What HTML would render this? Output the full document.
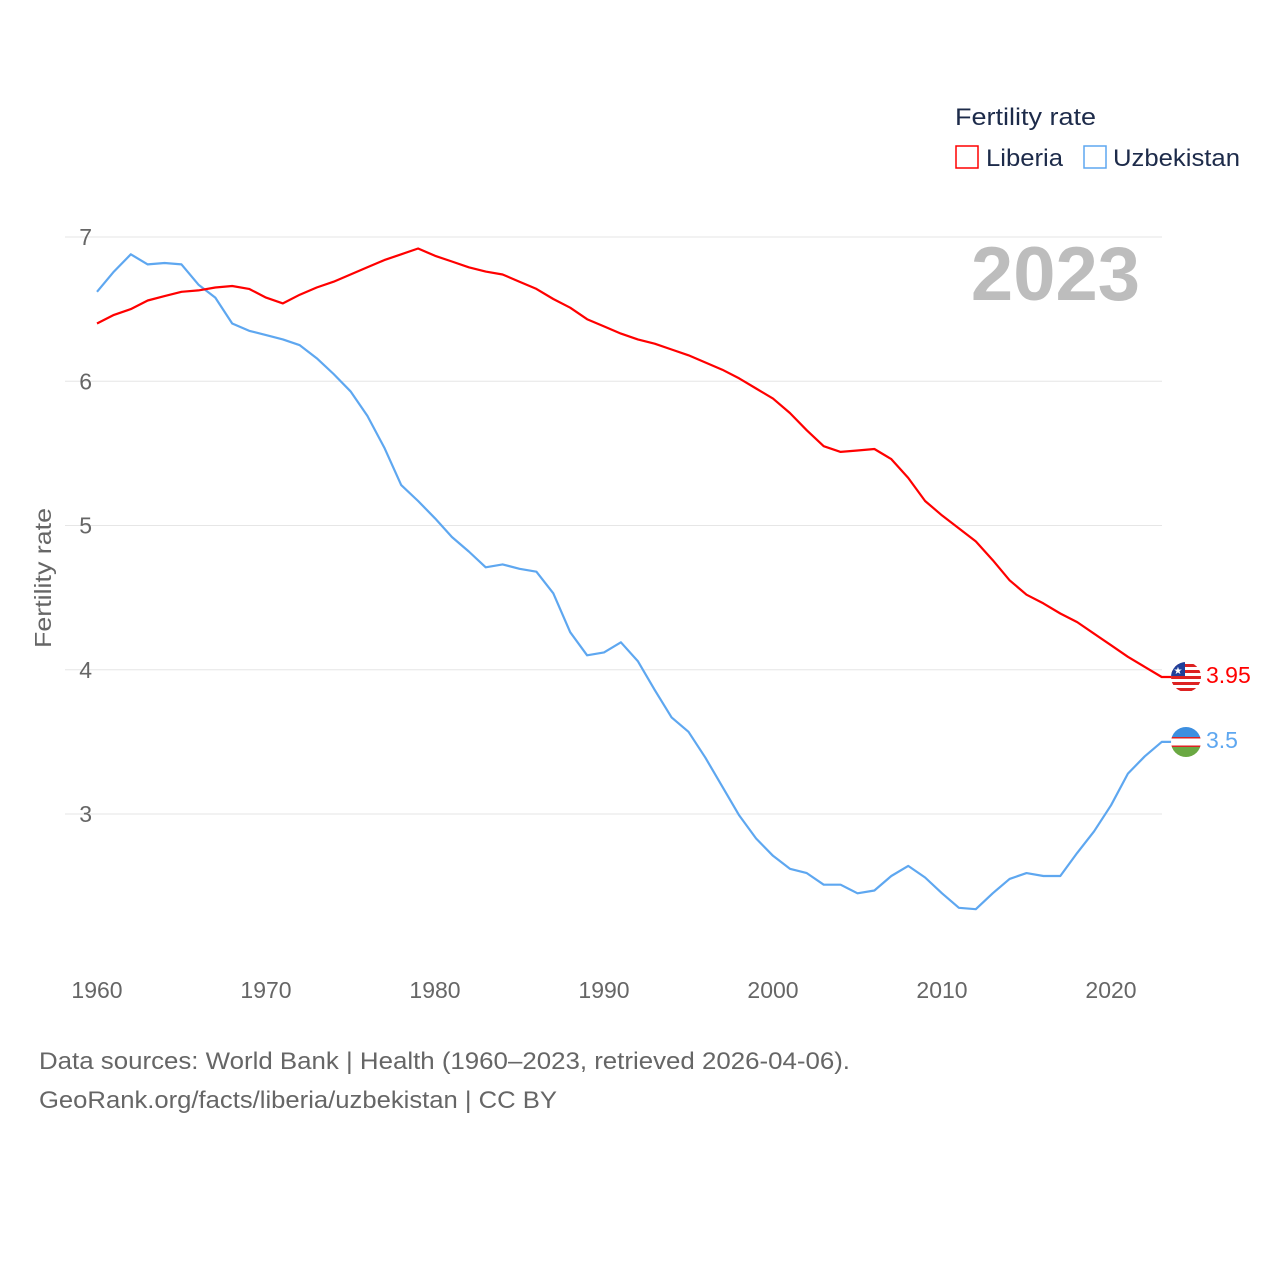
<!DOCTYPE html>
<html><head><meta charset="utf-8"><style>
body{margin:0;background:#fff;font-family:"Liberation Sans",sans-serif}
svg text{font-family:"Liberation Sans",sans-serif}
</style></head><body>
<svg id="chart" width="1280" height="1280" xmlns="http://www.w3.org/2000/svg">
<defs>
<clipPath id="c1"><circle cx="1186" cy="677" r="15"/></clipPath>
<clipPath id="c2"><circle cx="1186" cy="742" r="15"/></clipPath>
</defs>
<g id="grid"></g>
<g id="ticks"></g>
<text transform="translate(51,578) rotate(-90)" text-anchor="middle" font-size="23" fill="#666" textLength="140" lengthAdjust="spacingAndGlyphs">Fertility rate</text>
<text x="1140" y="300" text-anchor="end" font-size="76" font-weight="bold" fill="#bdbdbd">2023</text>
<g>
<text x="955" y="125" font-size="24" fill="#1d2b4a" textLength="141" lengthAdjust="spacingAndGlyphs">Fertility rate</text>
<rect x="956" y="146" width="22" height="22" fill="none" stroke="#f00" stroke-width="1.5"/>
<text x="986" y="166" font-size="24" fill="#1d2b4a" textLength="77" lengthAdjust="spacingAndGlyphs">Liberia</text>
<rect x="1084" y="146" width="22" height="22" fill="none" stroke="#5ea7f0" stroke-width="1.5"/>
<text x="1113" y="166" font-size="24" fill="#1d2b4a" textLength="127" lengthAdjust="spacingAndGlyphs">Uzbekistan</text>
</g>
<g id="series"></g>
<g clip-path="url(#c1)">
<rect x="1171" y="662" width="30" height="30" fill="#fff"/>
<rect x="1171" y="664" width="30" height="3" fill="#d22"/><rect x="1171" y="670" width="30" height="3" fill="#d22"/><rect x="1171" y="676" width="30" height="3" fill="#d22"/><rect x="1171" y="682" width="30" height="3" fill="#d22"/><rect x="1171" y="688" width="30" height="3" fill="#d22"/>
<rect x="1171" y="662" width="14" height="14" fill="#1f3f9a"/><text x="1178" y="674" font-size="10" fill="#fff" text-anchor="middle">★</text>
</g>
<g clip-path="url(#c2)">
<rect x="1171" y="727" width="30" height="10" fill="#3d8fe0"/>
<rect x="1171" y="737" width="30" height="10" fill="#fff"/>
<rect x="1171" y="737" width="30" height="1.5" fill="#d22"/><rect x="1171" y="745.5" width="30" height="1.5" fill="#d22"/>
<rect x="1171" y="747" width="30" height="10" fill="#6aa842"/>
</g>
<text x="1206" y="683" font-size="23" fill="#f00">3.95</text>
<text x="1206" y="748" font-size="23" fill="#5ea7f0">3.5</text>
<text x="39" y="1069" font-size="24" fill="#666" textLength="811" lengthAdjust="spacingAndGlyphs">Data sources: World Bank | Health (1960–2023, retrieved 2026-04-06).</text>
<text x="39" y="1108" font-size="24" fill="#666" textLength="518" lengthAdjust="spacingAndGlyphs">GeoRank.org/facts/liberia/uzbekistan | CC BY</text>
</svg>
<script>
const years=[];for(let y=1960;y<=2023;y++)years.push(y);
const liberia=[6.40,6.46,6.50,6.56,6.59,6.62,6.63,6.65,6.66,6.64,6.58,6.54,6.60,6.65,6.69,6.74,6.79,6.84,6.88,6.92,6.87,6.83,6.79,6.76,6.74,6.69,6.64,6.57,6.51,6.43,6.38,6.33,6.29,6.26,6.22,6.18,6.13,6.08,6.02,5.95,5.88,5.78,5.66,5.55,5.51,5.52,5.53,5.46,5.33,5.17,5.07,4.98,4.89,4.76,4.62,4.52,4.46,4.39,4.33,4.25,4.17,4.09,4.02,3.95];
const uzbekistan=[6.62,6.76,6.88,6.81,6.82,6.81,6.67,6.58,6.40,6.35,6.32,6.29,6.25,6.16,6.05,5.93,5.76,5.54,5.28,5.17,5.05,4.92,4.82,4.71,4.73,4.70,4.68,4.53,4.26,4.10,4.12,4.19,4.06,3.86,3.67,3.57,3.39,3.19,2.99,2.83,2.71,2.62,2.59,2.51,2.51,2.45,2.47,2.57,2.64,2.56,2.45,2.35,2.34,2.45,2.55,2.59,2.57,2.57,2.73,2.88,3.06,3.28,3.40,3.50];
const yTicks=[3,4,5,6,7];
const xTicks=[1960,1970,1980,1990,2000,2010,2020];
const NS="http://www.w3.org/2000/svg";
const xS=y=>97+(y-1960)*(1111-97)/60;
const yS=v=>237+(7-v)*(814-237)/4;
const grid=document.getElementById('grid'),ticks=document.getElementById('ticks'),series=document.getElementById('series');
yTicks.forEach(t=>{
 const l=document.createElementNS(NS,'line');
 
 
 l.setAttribute('x1',65);l.setAttribute('x2',1162);l.setAttribute('y1',yS(t));l.setAttribute('y2',yS(t));
 l.setAttribute('stroke','#e6e6e6');grid.appendChild(l);
 const tx=document.createElementNS(NS,'text');
 
 
 tx.setAttribute('x',92);tx.setAttribute('y',yS(t)+8);tx.setAttribute('text-anchor','end');
 tx.setAttribute('font-size','23');tx.setAttribute('fill','#666');tx.textContent=t;ticks.appendChild(tx);
});
xTicks.forEach(t=>{
 const tx=document.createElementNS(NS,'text');
 
 
 tx.setAttribute('x',xS(t));tx.setAttribute('y',998);tx.setAttribute('text-anchor','middle');
 tx.setAttribute('font-size','23');tx.setAttribute('fill','#666');tx.textContent=t;ticks.appendChild(tx);
});
function line(vals,color,name){
 const p=document.createElementNS(NS,'path');
 
 
 let d=vals.map((v,i)=>(i?'L':'M')+xS(years[i]).toFixed(1)+','+yS(v).toFixed(1)).join('');
 d+='L'+(xS(2023)+10).toFixed(1)+','+yS(vals[vals.length-1]).toFixed(1);
 p.setAttribute('d',d);p.setAttribute('fill','none');p.setAttribute('stroke',color);p.setAttribute('stroke-width','2.2');
 p.setAttribute('stroke-linejoin','round');series.appendChild(p);
}
line(uzbekistan,'#5ea7f0','uzbekistan-line');
line(liberia,'#f00','liberia-line');
</script>
</body></html>
